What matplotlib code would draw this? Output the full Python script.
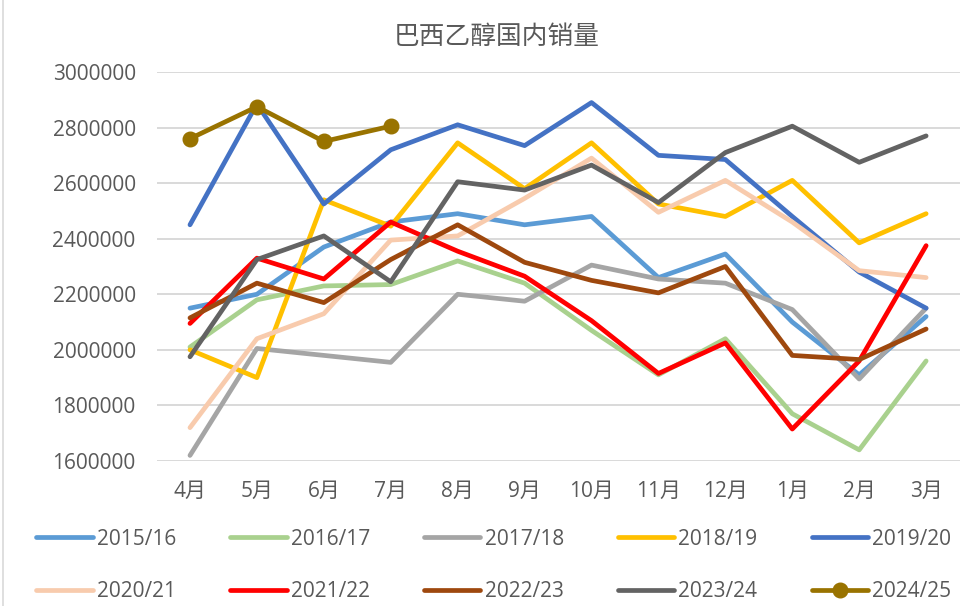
import matplotlib
matplotlib.use("Agg")
import matplotlib.pyplot as plt
from matplotlib.lines import Line2D

months = ["4月", "5月", "6月", "7月", "8月", "9月", "10月", "11月", "12月", "1月", "2月", "3月"]

s2015_16 = [2150000, 2200000, 2370000, 2460000, 2490000, 2450000, 2480000, 2260000, 2345000, 2100000, 1910000, 2120000]
s2016_17 = [2010000, 2180000, 2230000, 2235000, 2320000, 2240000, 2070000, 1910000, 2040000, 1770000, 1640000, 1960000]
s2017_18 = [1620000, 2005000, 1980000, 1955000, 2200000, 2175000, 2305000, 2255000, 2240000, 2145000, 1895000, 2150000]
s2018_19 = [2000000, 1900000, 2540000, 2445000, 2745000, 2580000, 2745000, 2525000, 2480000, 2610000, 2385000, 2490000]
s2019_20 = [2450000, 2885000, 2525000, 2720000, 2810000, 2735000, 2890000, 2700000, 2685000, 2480000, 2280000, 2150000]
s2020_21 = [1720000, 2040000, 2130000, 2395000, 2410000, 2545000, 2690000, 2495000, 2610000, 2460000, 2285000, 2260000]
s2021_22 = [2095000, 2330000, 2255000, 2460000, 2355000, 2265000, 2105000, 1915000, 2025000, 1715000, 1960000, 2375000]
s2022_23 = [2115000, 2240000, 2170000, 2325000, 2450000, 2315000, 2250000, 2205000, 2300000, 1980000, 1965000, 2075000]
s2023_24 = [1975000, 2325000, 2410000, 2245000, 2605000, 2575000, 2665000, 2530000, 2710000, 2805000, 2675000, 2770000]
s2024_25 = [2760000, 2875000, 2750000, 2805000]

labels = ["2015/16", "2016/17", "2017/18", "2018/19", "2019/20",
          "2020/21", "2021/22", "2022/23", "2023/24", "2024/25"]
series = [s2015_16, s2016_17, s2017_18, s2018_19, s2019_20,
          s2020_21, s2021_22, s2022_23, s2023_24, s2024_25]
colors = ["#5B9BD5", "#A9D18E", "#A5A5A5", "#FFC000", "#4472C4",
          "#F8CBAD", "#FF0000", "#9E480E", "#636363", "#997300"]

FONT = ["Open Sans", "Noto Sans CJK SC", "DejaVu Sans"]
TXT = "#595959"

fig = plt.figure(figsize=(9.74, 6.06), dpi=100)
ax = fig.add_axes([0.1607, 0.2393, 0.8245, 0.6419])

x = list(range(len(months)))
handles = []
for lab, vals, c in zip(labels, series, colors):
    if lab == "2024/25":
        h, = ax.plot(x[:len(vals)], vals, color=c, lw=3.4, marker="o", markersize=10.5,
                     label=lab, solid_capstyle="round", solid_joinstyle="round", zorder=3)
    else:
        h, = ax.plot(x[:len(vals)], vals, color=c, lw=3.4, label=lab,
                     solid_capstyle="round", solid_joinstyle="round", zorder=3)
    handles.append(h)

ax.set_xlim(-0.5, len(months) - 0.5)
ax.set_ylim(1600000, 3000000)
ax.set_yticks(range(1600000, 3000001, 200000))
ax.set_yticklabels([str(v) for v in range(1600000, 3000001, 200000)])
ax.set_xticks(x)
ax.set_xticklabels(months)
ax.grid(axis="y", color="#D9D9D9", lw=1.4, zorder=0)
ax.set_axisbelow(True)
for sp in ax.spines.values():
    sp.set_visible(False)
ax.tick_params(axis="both", length=0, colors=TXT, labelsize=15)
ax.tick_params(axis="y", pad=15)
ax.tick_params(axis="x", pad=14)
for t in ax.get_xticklabels() + ax.get_yticklabels():
    t.set_family(FONT)

fig.text(0.510, 1 - 37 / 606, "巴西乙醇国内销量", ha="center", va="center",
         fontsize=18.5, color=TXT, family=["Noto Sans CJK SC", "DejaVu Sans"],
         fontweight="light")

# legend laid out row by row (2 rows x 5 columns)
order = [0, 5, 1, 6, 2, 7, 3, 8, 4, 9]
leg = fig.legend([handles[i] for i in order], [labels[i] for i in order],
                 loc="center", bbox_to_anchor=(0.507, 0.067), ncol=5, frameon=False,
                 prop={"family": FONT, "size": 15}, handlelength=2.7,
                 handletextpad=0.2, columnspacing=2.6, labelspacing=1.5)
for t in leg.get_texts():
    t.set_color(TXT)

fig.add_artist(Line2D([2.5 / 974, 2.5 / 974], [0, 1], transform=fig.transFigure,
                      color="#D9D9D9", lw=1.2))

fig.savefig("out.png", dpi=100)
